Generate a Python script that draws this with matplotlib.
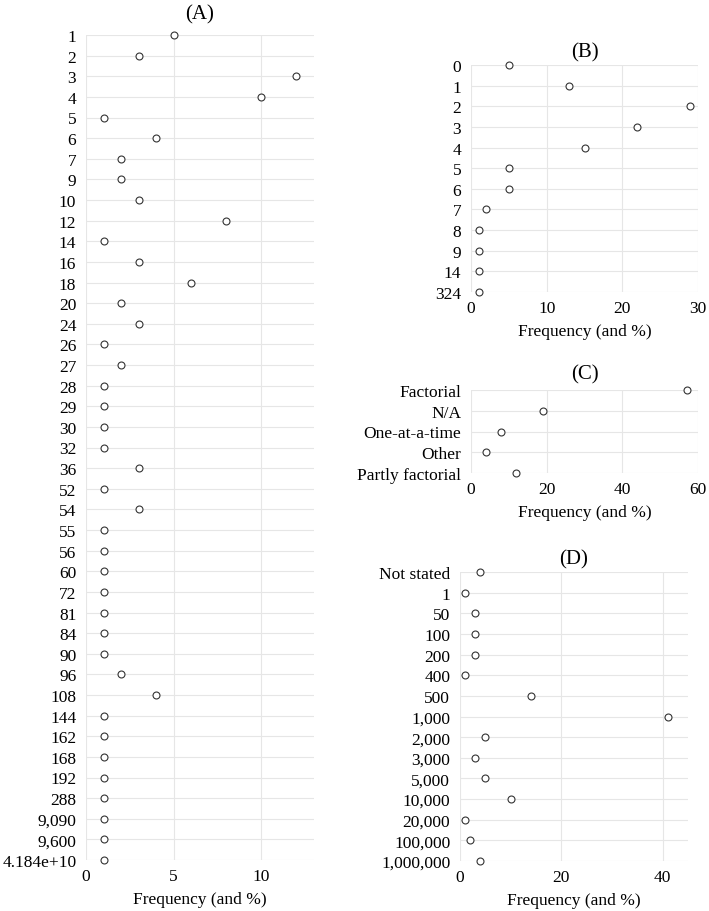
import matplotlib
matplotlib.use("Agg")
import matplotlib.pyplot as plt

plt.rcParams['font.family'] = ['Liberation Serif', 'DejaVu Serif']
plt.rcParams['font.size'] = 12.5

# (A) number of runs / scenarios
a_labels = ['1', '2', '3', '4', '5', '6', '7', '9', '10', '12', '14', '16', '18', '20',
            '24', '26', '27', '28', '29', '30', '32', '36', '52', '54', '55', '56', '60',
            '72', '81', '84', '90', '96', '108', '144', '162', '168', '192', '288',
            '9,090', '9,600', '4.184e+10']
a_values = [5, 3, 12, 10, 1, 4, 2, 2, 3, 8, 1, 3, 6, 2,
            3, 1, 2, 1, 1, 1, 1, 3, 1, 3, 1, 1, 1,
            1, 1, 1, 1, 2, 4, 1, 1, 1, 1, 1,
            1, 1, 1]

# (B)
b_labels = ['0', '1', '2', '3', '4', '5', '6', '7', '8', '9', '14', '324']
b_values = [5, 13, 29, 22, 15, 5, 5, 2, 1, 1, 1, 1]

# (C)
c_labels = ['Factorial', 'N/A', 'One-at-a-time', 'Other', 'Partly factorial']
c_values = [57, 19, 8, 4, 12]

# (D)
d_labels = ['Not stated', '1', '50', '100', '200', '400', '500', '1,000', '2,000',
            '3,000', '5,000', '10,000', '20,000', '100,000', '1,000,000']
d_values = [4, 1, 3, 3, 3, 1, 14, 41, 5, 3, 5, 10, 1, 2, 4]

W, H = 709, 912
fig = plt.figure(figsize=(W / 100, H / 100), dpi=100)


def make_ax(left, right, top, bottom):
    return fig.add_axes([left / W, 1 - bottom / H, (right - left) / W, (bottom - top) / H])


def dot_panel(ax, labels, values, xmax, xticks, title, tpad):
    ax.plot(values, labels, 'o', ls='none', mfc='white', mec='#333333',
            ms=5, mew=0.8, clip_on=False, zorder=3)
    n = len(labels)
    ax.set_ylim(n - 1, 0)
    ax.set_xlim(0, xmax)
    ax.set_xticks(xticks)
    ax.grid(True, color='#e6e6e6', lw=0.8)
    ax.set_axisbelow(True)
    for s in ax.spines.values():
        s.set_visible(False)
    ax.tick_params(axis='y', length=0, pad=7)
    ax.tick_params(axis='x', length=0, pad=6)
    ax.set_xlabel('Frequency (and %)', labelpad=5)
    ax.set_title(title, pad=tpad)


dot_panel(make_ax(86, 314, 36, 861), a_labels, a_values, 13, [0, 5, 10], '(A)', 12)
dot_panel(make_ax(471, 698, 66, 293), b_labels, b_values, 30, [0, 10, 20, 30], '(B)', 6)
dot_panel(make_ax(471, 698, 391, 474), c_labels, c_values, 60, [0, 20, 40, 60], '(C)', 8)
dot_panel(make_ax(460, 688, 573, 862), d_labels, d_values, 45, [0, 20, 40], '(D)', 6)

fig.savefig('out.png', dpi=100)
